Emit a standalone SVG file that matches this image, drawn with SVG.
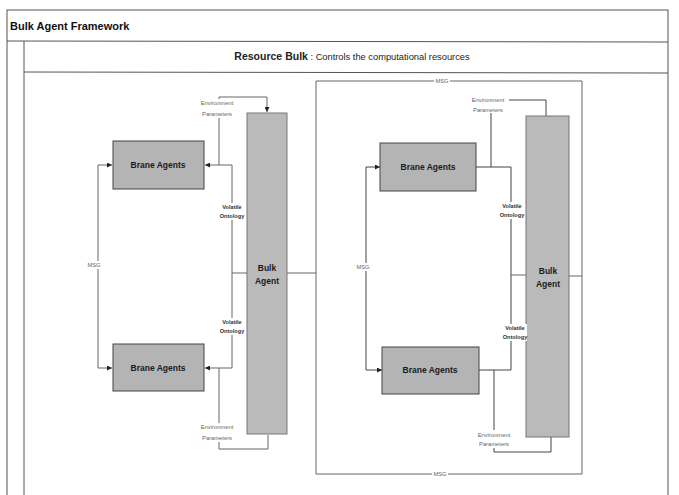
<svg xmlns="http://www.w3.org/2000/svg" width="679" height="495" viewBox="0 0 679 495">
<style>
.frame{fill:none;stroke:#555;stroke-width:1}
.conn{fill:none;stroke:#666;stroke-width:1}
.connd{fill:none;stroke:#444;stroke-width:1}
.brane{fill:#b4b4b4;stroke:#444;stroke-width:1}
.bulk{fill:#bababa;stroke:#777;stroke-width:1}
.nt{font-family:"Liberation Sans",Arial,sans-serif;font-weight:bold;font-size:8.5px;fill:#1a1a1a;text-anchor:middle}
.lbl{font-family:"Liberation Sans",Arial,sans-serif;font-size:5.8px;fill:#666;text-anchor:middle}
.lblb{font-family:"Liberation Sans",Arial,sans-serif;font-size:5.6px;font-weight:bold;fill:#333;text-anchor:middle}
.bg{fill:#ffffff}
</style>
<defs>
<marker id="arr" viewBox="0 0 6 6" refX="6" refY="3" markerWidth="5" markerHeight="5" markerUnits="userSpaceOnUse" orient="auto-start-reverse">
<path d="M0,0 L6,3 L0,6 z" fill="#222"/>
</marker>
</defs>
<rect x="0" y="0" width="679" height="495" fill="#ffffff"/>
<g id="frame">
<rect class="frame" x="7" y="10" width="661" height="490"/>
<line class="frame" x1="7" y1="41" x2="668" y2="42"/>
<line class="frame" x1="24" y1="41" x2="24" y2="495"/>
<line class="frame" x1="24" y1="72" x2="668" y2="73"/>
<text x="10" y="30" font-family="'Liberation Sans',Arial,sans-serif" font-weight="bold" font-size="11px" fill="#111">Bulk Agent Framework</text>
<text x="352" y="60" font-family="'Liberation Sans',Arial,sans-serif" fill="#222" text-anchor="middle"><tspan font-weight="bold" font-size="10.5px">Resource Bulk</tspan><tspan font-size="9.3px"> : Controls the computational resources</tspan></text>
</g>
<g id="connectors">
<path class="conn" d="M112,165 H98 V368 H112" marker-start="url(#arr)" marker-end="url(#arr)"/>
<path class="conn" d="M247,273 H232 V165 H205" marker-end="url(#arr)"/>
<path class="conn" d="M232,273 V368 H205" marker-end="url(#arr)"/>
<path class="conn" d="M219,165 V97 H267 V112" marker-end="url(#arr)"/>
<path class="conn" d="M219,368 V449 H268 V435"/>
<path class="conn" d="M287,273 H316"/>
<path class="conn" d="M316,81 H582 V474 H316 Z"/>
<path class="conn" d="M569,276 H582"/>
<path class="connd" d="M380,167 H366 V370 H382" marker-start="url(#arr)" marker-end="url(#arr)"/>
<path class="connd" d="M476,167 H511 V370 H479"/>
<path class="conn" d="M511,275 H526"/>
<path class="connd" d="M491,167 V100 H546 V116"/>
<path class="connd" d="M494,370 V452 H551 V437"/>
</g>
<g id="bulk-agent-left">
<rect class="bulk" x="247" y="113" width="40" height="321"/>
<text class="nt" x="267" y="271">Bulk</text>
<text class="nt" x="267" y="284">Agent</text>
</g>
<g id="bulk-agent-right">
<rect class="bulk" x="526" y="116" width="43" height="321"/>
<text class="nt" x="548" y="274">Bulk</text>
<text class="nt" x="548" y="287">Agent</text>
</g>
<g id="brane-left-top">
<rect class="brane" x="113" y="141" width="91" height="48"/>
<text class="nt" x="158" y="168">Brane Agents</text>
</g>
<g id="brane-left-bottom">
<rect class="brane" x="113" y="344" width="91" height="47"/>
<text class="nt" x="158" y="371">Brane Agents</text>
</g>
<g id="brane-right-top">
<rect class="brane" x="380" y="143" width="96" height="48"/>
<text class="nt" x="428" y="170">Brane Agents</text>
</g>
<g id="brane-right-bottom">
<rect class="brane" x="382" y="347" width="97" height="47"/>
<text class="nt" x="430" y="373">Brane Agents</text>
</g>
<g id="labels">
<rect class="bg" x="88" y="261" width="13" height="8"/>
<text class="lbl" x="94" y="267">MSG</text>
<rect class="bg" x="357" y="263" width="13" height="8"/>
<text class="lbl" x="363" y="269">MSG</text>
<rect class="bg" x="434" y="77" width="16" height="8"/>
<text class="lbl" x="442" y="83">MSG</text>
<rect class="bg" x="432" y="470" width="16" height="8"/>
<text class="lbl" x="440" y="476">MSG</text>
<rect class="bg" x="221" y="203" width="22" height="17"/>
<text class="lblb" x="232" y="209">Volatile</text>
<text class="lblb" x="232" y="218">Ontology</text>
<rect class="bg" x="221" y="318" width="22" height="17"/>
<text class="lblb" x="232" y="324">Volatile</text>
<text class="lblb" x="232" y="333">Ontology</text>
<rect class="bg" x="500" y="202" width="24" height="17"/>
<text class="lblb" x="512" y="208">Volatile</text>
<text class="lblb" x="512" y="217">Ontology</text>
<rect class="bg" x="503" y="324" width="24" height="17"/>
<text class="lblb" x="515" y="330">Volatile</text>
<text class="lblb" x="515" y="339">Ontology</text>
<rect class="bg" x="197" y="99" width="40" height="19"/>
<text class="lbl" x="217" y="105">Environment</text>
<text class="lbl" x="217" y="116">Parameters</text>
<rect class="bg" x="197" y="423" width="40" height="19"/>
<text class="lbl" x="217" y="429">Environment</text>
<text class="lbl" x="217" y="440">Parameters</text>
<rect class="bg" x="468" y="95" width="41" height="18"/>
<text class="lbl" x="488" y="102">Environment</text>
<text class="lbl" x="488" y="112">Parameters</text>
<rect class="bg" x="473" y="430" width="42" height="18"/>
<text class="lbl" x="494" y="437">Environment</text>
<text class="lbl" x="494" y="446">Parameters</text>
</g>
</svg>
